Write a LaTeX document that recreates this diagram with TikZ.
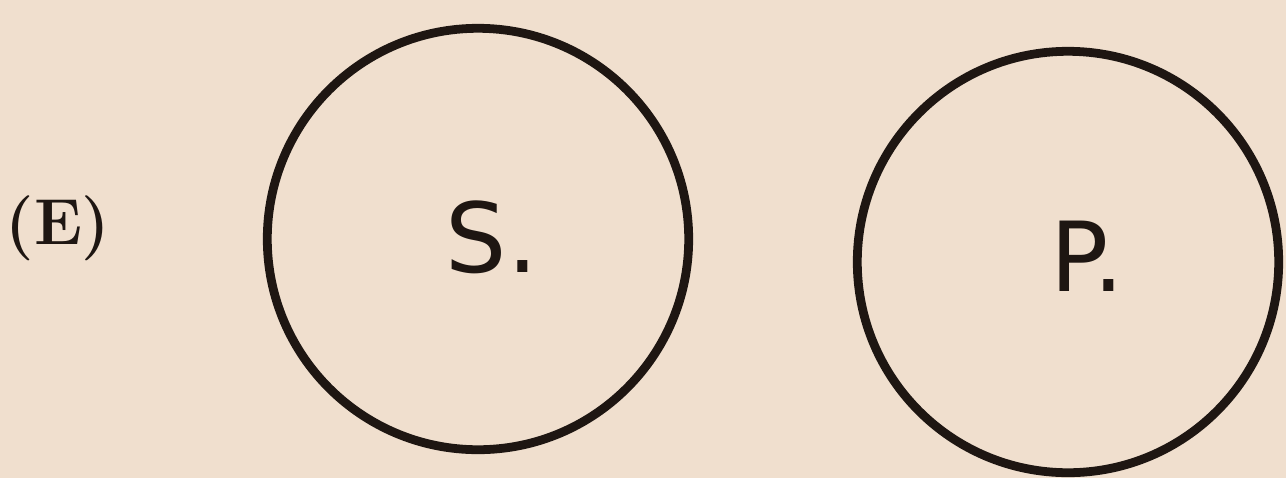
\documentclass[tikz,border=0pt]{standalone}
\usepackage{tikz}
\usepackage{fontspec}
\newfontfamily\letterfont{DejaVu Sans}
\usetikzlibrary{positioning}
\definecolor{paper}{HTML}{F0DFCE}
\definecolor{ink}{HTML}{1E1612}

\begin{document}
\begin{tikzpicture}[x=0.02cm,y=-0.02cm,
            ring/.style={circle,draw=ink,line width=5pt,inner sep=0pt,
                          minimum size=8.43cm},
            letter/.style={inner sep=0pt,text=ink,font=\letterfont\fontsize{55}{60}\selectfont},
            tag/.style={inner sep=0pt,text=ink,font=\bfseries\fontsize{37}{40}\selectfont}]
          \fill[paper] (0,0) rectangle (1286,478);
          \node[tag] (e) at (58,228) {(E)};
          \node[ring] (s) at (478,239) {};
          \node[ring] (p) at (1068,262) {};
          \node[letter] (slabel) at (492,237) {S.};
          \node[letter] (plabel) at (1087,256) {P.};
        \end{tikzpicture}
\end{document}
